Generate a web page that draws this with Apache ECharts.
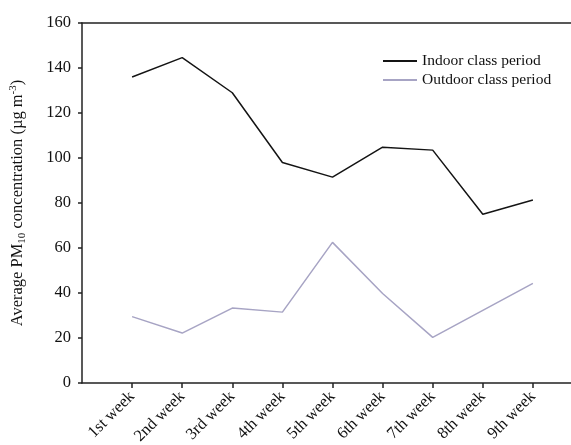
<!DOCTYPE html>
<html>
<head>
<meta charset="utf-8">
<script src="https://cdn.jsdelivr.net/npm/echarts@6/dist/echarts.min.js"></script>
<style>
  html, body { margin: 0; padding: 0; background: #fff; }
  #chart { width: 571px; height: 445px; }
</style>
</head>
<body>
<div id="chart"></div>
<script>
// Weekly average PM10 concentrations (µg m-3)
const weeks = ['1st week', '2nd week', '3rd week', '4th week', '5th week',
               '6th week', '7th week', '8th week', '9th week'];
const indoor = [136, 144.6, 129, 98, 91.5, 104.8, 103.5, 75, 81.3];
const outdoor = [29.5, 22.2, 33.3, 31.5, 62.5, 39.8, 20.3, 32.3, 44.3];
const yTicks = [0, 20, 40, 60, 80, 100, 120, 140, 160];

const FONT = '"Liberation Serif", "DejaVu Serif", serif';
const weekPos = weeks.map((_, i) => i + 1);
const toPoints = vals => vals.map((v, i) => [i + 1, v]);

const chart = echarts.init(document.getElementById('chart'));
chart.setOption({
  animation: false,
  backgroundColor: '#fff',
  grid: { left: 82, top: 23, width: 501, height: 360, containLabel: false, outerBoundsMode: 'none' },
  legend: {
    orient: 'vertical',
    left: 378,
    top: 48,
    itemGap: 3,
    itemWidth: 34,
    itemHeight: 2,
    icon: 'rect',
    textStyle: { fontFamily: FONT, fontSize: 15.5, color: '#111' },
    data: ['Indoor class period', 'Outdoor class period']
  },
  xAxis: [{
    type: 'value',
    min: 0,
    max: weeks.length + 1,
    interval: 1,
    splitLine: { show: false },
    axisLine: { lineStyle: { color: '#222', width: 1.5 } },
    axisTick: { show: true, length: 5, customValues: weekPos,
                lineStyle: { color: '#222', width: 1.5 } },
    axisLabel: {
      customValues: weekPos,
      rotate: 45,
      margin: 11,
      fontFamily: FONT,
      fontSize: 16.5,
      color: '#111',
      formatter: v => weeks[v - 1] || ''
    }
  }, {
    type: 'value',
    position: 'top',
    min: 0,
    max: weeks.length + 1,
    splitLine: { show: false },
    axisLine: { show: true, lineStyle: { color: '#222', width: 1.5 } },
    axisTick: { show: false },
    axisLabel: { show: false }
  }],
  yAxis: {
    type: 'value',
    min: 0,
    max: 160,
    interval: 20,
    splitLine: { show: false },
    axisLine: { show: true, lineStyle: { color: '#222', width: 1.5 } },
    axisTick: { show: true, length: 4, lineStyle: { color: '#222', width: 1.5 } },
    axisLabel: {
      margin: 11,
      fontFamily: FONT,
      fontSize: 16.5,
      color: '#111',
      formatter: v => yTicks.includes(v) ? String(v) : ''
    },
    name: '{n|Average PM}{sub|10}{n| concentration (µg m}{sup|-3}{n|)}',
    nameLocation: 'middle',
    nameRotate: 90,
    nameGap: 54,
    nameTextStyle: {
      rich: {
        n: { fontFamily: FONT, fontSize: 16.5, color: '#111' },
        sub: { fontFamily: FONT, fontSize: 11, color: '#111', padding: [9, 0, 0, 0] },
        sup: { fontFamily: FONT, fontSize: 11, color: '#111', padding: [0, 0, 9, 0] }
      }
    }
  },
  series: [{
    name: 'Indoor class period',
    type: 'line',
    data: toPoints(indoor),
    symbol: 'none',
    lineStyle: { color: '#141414', width: 1.5 },
    itemStyle: { color: '#141414' }
  }, {
    name: 'Outdoor class period',
    type: 'line',
    data: toPoints(outdoor),
    symbol: 'none',
    lineStyle: { color: '#a7a4c4', width: 1.5 },
    itemStyle: { color: '#a7a4c4' }
  }]
});
</script>
</body>
</html>
